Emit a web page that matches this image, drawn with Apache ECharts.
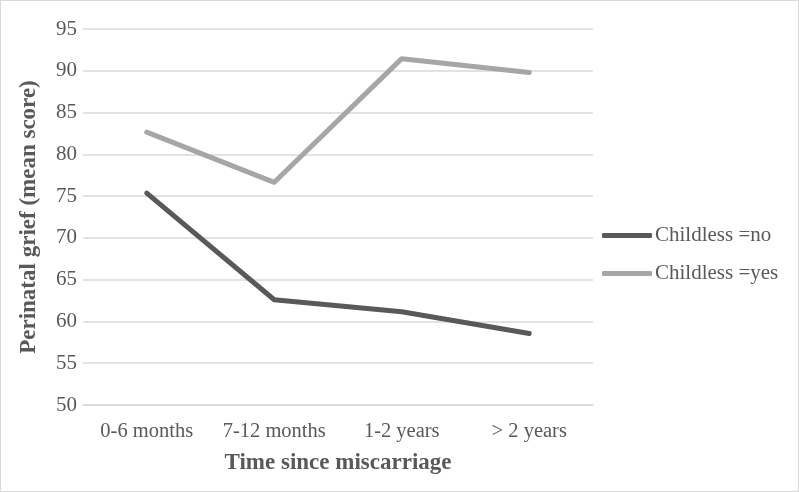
<!DOCTYPE html>
<html>
<head>
<meta charset="utf-8">
<script src="https://cdn.jsdelivr.net/npm/echarts@6/dist/echarts.min.js"></script>
<style>
  html, body { margin: 0; padding: 0; background: #fff; }
  #chart { width: 799px; height: 492px; box-sizing: border-box; border: 1.5px solid #d9d9d9; }
</style>
</head>
<body>
<div id="chart"></div>
<script>
const categories = ['0-6 months', '7-12 months', '1-2 years', '> 2 years']
const childlessNo = [75.35, 62.6, 61.15, 58.55]
const childlessYes = [82.65, 76.65, 91.45, 89.8]
const seriesNames = ['Childless =no', 'Childless =yes']

const chart = echarts.init(document.getElementById('chart'))

const font = '"Liberation Serif", "Times New Roman", serif'
const textColor = '#595959'

chart.setOption({
  animation: false,
  textStyle: { fontFamily: font },
  grid: { left: 82, right: 205, top: 28, bottom: 86 },
  legend: {
    orient: 'vertical',
    left: 596,
    top: 219,
    icon: 'roundRect',
    itemWidth: 50,
    itemHeight: 5,
    itemGap: 17,
    textStyle: { fontFamily: font, fontSize: 21, lineHeight: 20, color: textColor, padding: [0, 0, 0, -2] },
    data: seriesNames
  },
  xAxis: {
    type: 'category',
    data: categories,
    boundaryGap: true,
    name: 'Time since miscarriage',
    nameLocation: 'middle',
    nameGap: 47,
    nameTextStyle: { fontFamily: font, fontSize: 23, fontWeight: 'bold', color: textColor },
    axisLine: { show: true, lineStyle: { color: '#d9d9d9', width: 1.5 } },
    axisTick: { show: false },
    axisLabel: { fontFamily: font, fontSize: 20.5, color: textColor, margin: 16, interval: 0 }
  },
  yAxis: {
    type: 'value',
    min: 50,
    max: 95,
    interval: 5,
    name: 'Perinatal grief (mean score)',
    nameLocation: 'middle',
    nameGap: 42,
    nameTextStyle: { fontFamily: font, fontSize: 23, fontWeight: 'bold', color: textColor },
    axisLine: { show: false },
    axisTick: { show: false },
    axisLabel: { fontFamily: font, fontSize: 21, color: textColor, margin: 6 },
    splitLine: { lineStyle: { color: '#d9d9d9', width: 1.5 } }
  },
  series: [
    {
      name: seriesNames[0],
      type: 'line',
      data: childlessNo,
      symbol: 'none',
      color: '#595959',
      lineStyle: { color: '#595959', width: 5, cap: 'round', join: 'round' }
    },
    {
      name: seriesNames[1],
      type: 'line',
      data: childlessYes,
      symbol: 'none',
      color: '#a6a6a6',
      lineStyle: { color: '#a6a6a6', width: 5, cap: 'round', join: 'round' }
    }
  ]
})
</script>
</body>
</html>
